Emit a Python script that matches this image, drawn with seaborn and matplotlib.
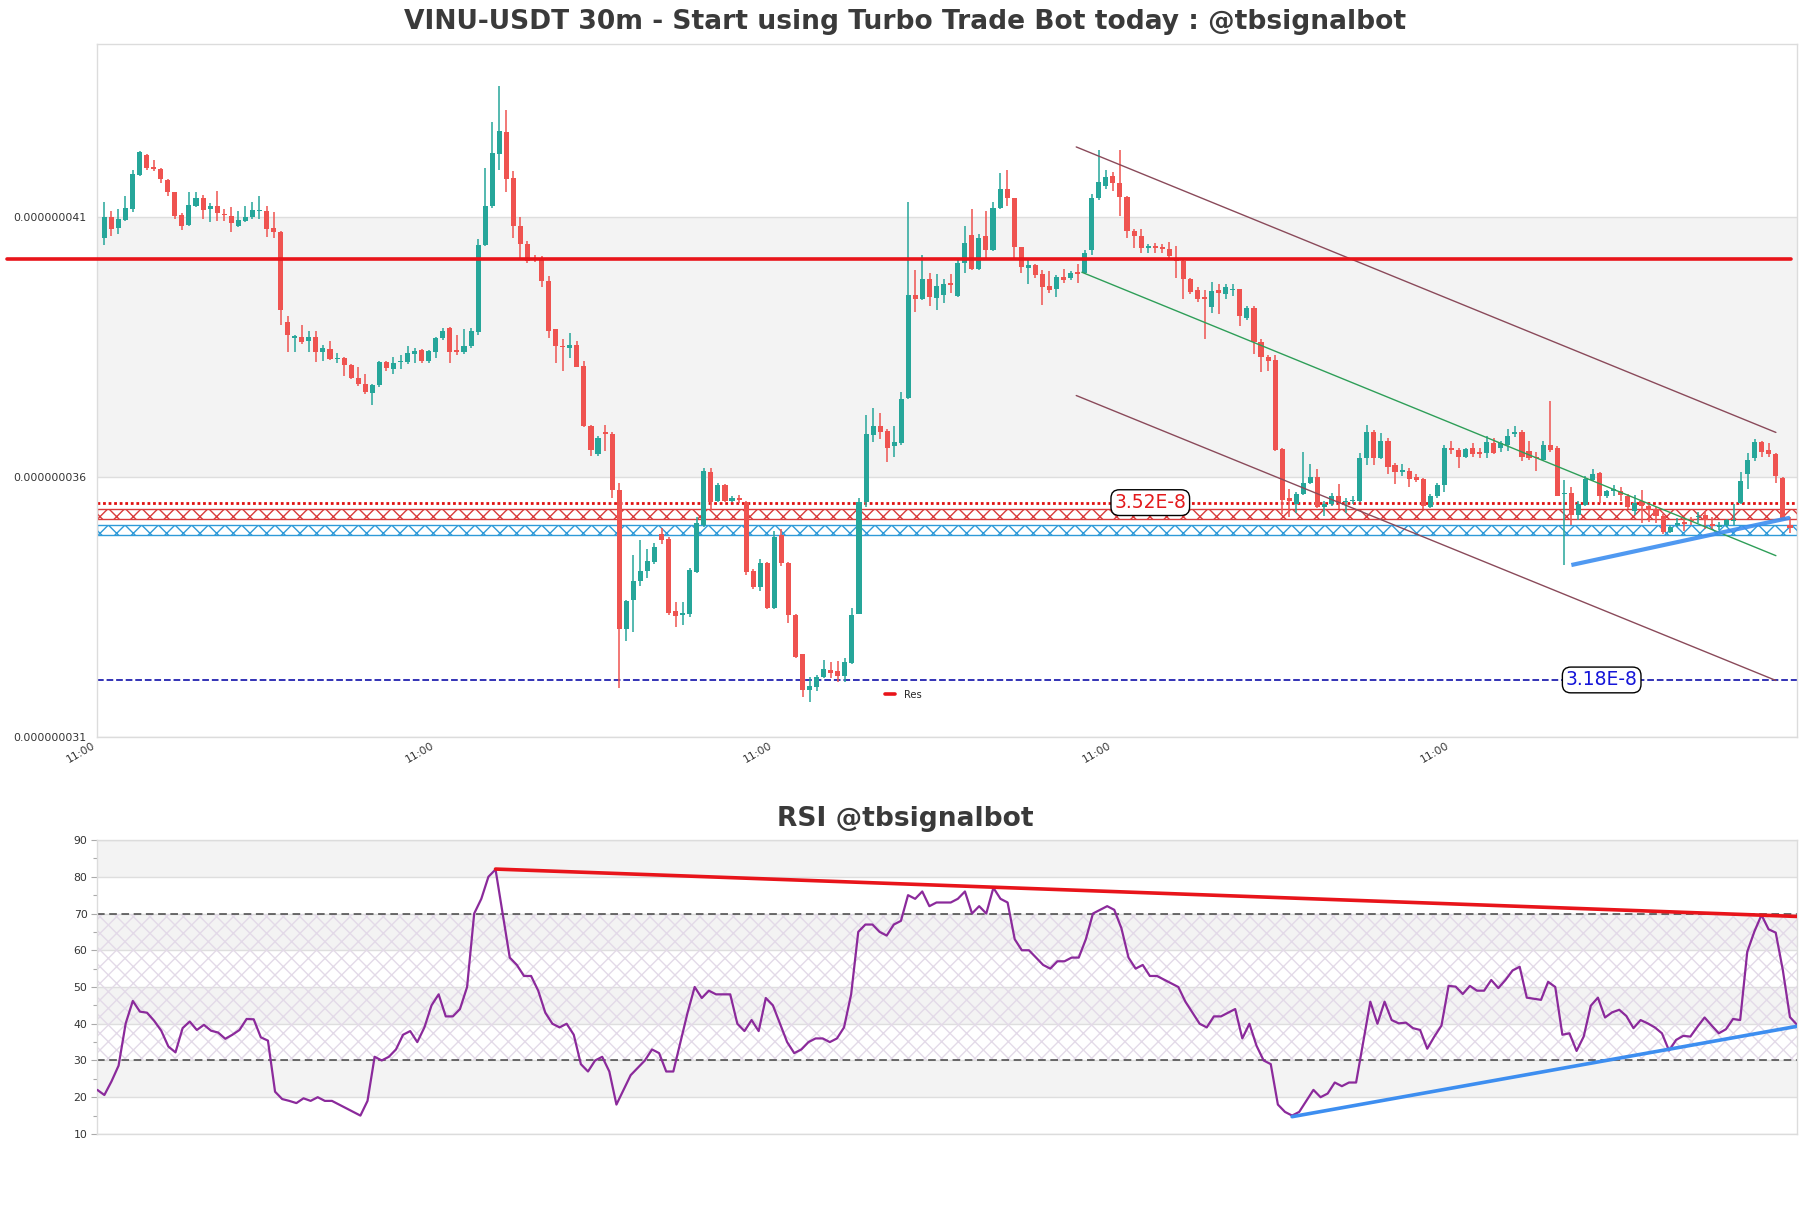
import numpy as np
import pandas as pd
import matplotlib
matplotlib.use("Agg")
import matplotlib.pyplot as plt
import seaborn as sns
from matplotlib.ticker import FixedLocator, FuncFormatter, MultipleLocator

# ---------------- data (prices in units of 1e-8 USDT) ----------------
SCALE = 1e-8

open_p = [
    4.059, 4.099, 4.078, 4.094, 4.114, 4.180, 4.219, 4.195, 4.192, 4.171,
    4.147, 4.103, 4.083, 4.121, 4.135, 4.114, 4.121, 4.105, 4.101, 4.081,
    4.092, 4.099, 4.110, 4.111, 4.079, 4.070, 3.898, 3.867, 3.869, 3.861,
    3.869, 3.840, 3.845, 3.826, 3.829, 3.815, 3.789, 3.779, 3.760, 3.776,
    3.820, 3.807, 3.820, 3.821, 3.835, 3.843, 3.822, 3.839, 3.866, 3.886,
    3.843, 3.839, 3.851, 3.878, 4.046, 4.121, 4.221, 4.262, 4.174, 4.082,
    4.047, 4.019, 4.017, 3.976, 3.883, 3.852, 3.848, 3.853, 3.813, 3.697,
    3.644, 3.686, 3.682, 3.575, 3.307, 3.362, 3.399, 3.418, 3.436, 3.489,
    3.481, 3.342, 3.333, 3.336, 3.416, 3.507, 3.609, 3.554, 3.584, 3.554,
    3.558, 3.551, 3.418, 3.387, 3.434, 3.347, 3.487, 3.434, 3.334, 3.258,
    3.189, 3.195, 3.215, 3.228, 3.226, 3.216, 3.242, 3.336, 3.551, 3.681,
    3.697, 3.687, 3.658, 3.664, 3.752, 3.950, 3.941, 3.980, 3.944, 3.950,
    3.972, 3.948, 4.010, 4.064, 3.999, 4.062, 4.035, 4.117, 4.154, 4.135,
    4.041, 4.002, 4.007, 3.990, 3.966, 3.960, 3.984, 3.982, 3.993, 3.992,
    4.035, 4.135, 4.158, 4.179, 4.164, 4.137, 4.072, 4.063, 4.039, 4.044,
    4.041, 4.038, 4.019, 4.015, 3.980, 3.958, 3.946, 3.927, 3.958, 3.952,
    3.958, 3.960, 3.905, 3.924, 3.858, 3.831, 3.825, 3.654, 3.558, 3.548,
    3.566, 3.587, 3.599, 3.542, 3.548, 3.562, 3.551, 3.553, 3.554, 3.635,
    3.685, 3.636, 3.668, 3.622, 3.609, 3.611, 3.599, 3.595, 3.542, 3.562,
    3.583, 3.656, 3.652, 3.638, 3.656, 3.648, 3.646, 3.664, 3.656, 3.661,
    3.682, 3.685, 3.650, 3.638, 3.632, 3.661, 3.656, 3.566, 3.568, 3.526,
    3.546, 3.593, 3.607, 3.562, 3.572, 3.573, 3.563, 3.534, 3.554, 3.544,
    3.538, 3.525, 3.493, 3.507, 3.512, 3.519, 3.522, 3.526, 3.509, 3.504,
    3.507, 3.514, 3.550, 3.605, 3.635, 3.666, 3.652, 3.643, 3.597, 3.507,
]

high_p = [
    4.129, 4.111, 4.115, 4.139, 4.190, 4.227, 4.221, 4.209, 4.194, 4.173,
    4.148, 4.107, 4.147, 4.147, 4.141, 4.127, 4.149, 4.115, 4.119, 4.111,
    4.121, 4.128, 4.140, 4.121, 4.109, 4.073, 3.909, 3.873, 3.891, 3.881,
    3.881, 3.854, 3.860, 3.838, 3.830, 3.817, 3.811, 3.797, 3.779, 3.822,
    3.822, 3.830, 3.834, 3.851, 3.848, 3.846, 3.844, 3.868, 3.886, 3.887,
    3.872, 3.884, 3.886, 4.056, 4.194, 4.282, 4.352, 4.305, 4.187, 4.099,
    4.054, 4.026, 4.025, 3.985, 3.884, 3.864, 3.877, 3.860, 3.822, 3.699,
    3.679, 3.699, 3.685, 3.587, 3.363, 3.449, 3.478, 3.460, 3.473, 3.501,
    3.483, 3.358, 3.358, 3.424, 3.522, 3.617, 3.617, 3.588, 3.585, 3.562,
    3.564, 3.554, 3.423, 3.442, 3.436, 3.495, 3.499, 3.436, 3.336, 3.259,
    3.215, 3.218, 3.248, 3.244, 3.246, 3.252, 3.347, 3.558, 3.719, 3.732,
    3.723, 3.691, 3.697, 3.763, 4.128, 3.997, 4.027, 3.991, 3.990, 3.980,
    3.990, 4.017, 4.082, 4.114, 4.066, 4.111, 4.128, 4.184, 4.190, 4.136,
    4.042, 4.017, 4.009, 3.997, 3.996, 3.988, 4.000, 3.996, 4.009, 4.035,
    4.143, 4.229, 4.190, 4.186, 4.229, 4.139, 4.076, 4.076, 4.048, 4.050,
    4.048, 4.051, 4.043, 4.019, 3.982, 3.964, 3.958, 3.974, 3.970, 3.970,
    3.970, 3.960, 3.929, 3.928, 3.864, 3.834, 3.834, 3.656, 3.577, 3.570,
    3.648, 3.625, 3.614, 3.554, 3.568, 3.585, 3.558, 3.562, 3.646, 3.699,
    3.690, 3.683, 3.674, 3.626, 3.625, 3.617, 3.605, 3.597, 3.566, 3.587,
    3.661, 3.669, 3.656, 3.656, 3.664, 3.656, 3.679, 3.675, 3.668, 3.691,
    3.697, 3.689, 3.669, 3.648, 3.668, 3.746, 3.658, 3.593, 3.580, 3.554,
    3.602, 3.614, 3.609, 3.575, 3.583, 3.580, 3.566, 3.564, 3.575, 3.548,
    3.542, 3.528, 3.507, 3.520, 3.519, 3.522, 3.532, 3.533, 3.522, 3.512,
    3.519, 3.548, 3.609, 3.646, 3.672, 3.668, 3.664, 3.646, 3.599, 3.522,
]

low_p = [
    4.046, 4.062, 4.066, 4.092, 4.109, 4.178, 4.189, 4.188, 4.164, 4.140,
    4.095, 4.074, 4.082, 4.118, 4.095, 4.089, 4.092, 4.092, 4.070, 4.080,
    4.090, 4.095, 4.095, 4.060, 4.059, 3.891, 3.839, 3.840, 3.856, 3.839,
    3.821, 3.823, 3.825, 3.818, 3.793, 3.788, 3.774, 3.758, 3.738, 3.773,
    3.803, 3.798, 3.807, 3.817, 3.818, 3.818, 3.818, 3.828, 3.862, 3.818,
    3.834, 3.836, 3.848, 3.873, 4.044, 4.117, 4.190, 4.148, 4.059, 4.017,
    4.011, 4.013, 3.964, 3.867, 3.818, 3.803, 3.828, 3.811, 3.695, 3.640,
    3.640, 3.650, 3.559, 3.193, 3.283, 3.301, 3.389, 3.405, 3.432, 3.471,
    3.334, 3.310, 3.314, 3.330, 3.415, 3.504, 3.536, 3.551, 3.551, 3.551,
    3.550, 3.411, 3.383, 3.381, 3.346, 3.346, 3.428, 3.318, 3.252, 3.177,
    3.167, 3.187, 3.212, 3.212, 3.205, 3.205, 3.240, 3.336, 3.542, 3.666,
    3.672, 3.628, 3.638, 3.661, 3.750, 3.917, 3.939, 3.928, 3.921, 3.933,
    3.953, 3.946, 3.991, 3.997, 3.997, 4.019, 4.033, 4.115, 4.121, 4.019,
    3.991, 3.970, 3.982, 3.931, 3.954, 3.946, 3.972, 3.979, 3.972, 3.990,
    4.027, 4.132, 4.154, 4.150, 4.101, 4.058, 4.039, 4.030, 4.030, 4.030,
    4.030, 4.021, 3.982, 3.942, 3.952, 3.935, 3.864, 3.915, 3.913, 3.941,
    3.948, 3.889, 3.902, 3.836, 3.801, 3.803, 3.650, 3.529, 3.522, 3.530,
    3.564, 3.585, 3.540, 3.525, 3.544, 3.538, 3.530, 3.548, 3.552, 3.622,
    3.622, 3.634, 3.606, 3.585, 3.601, 3.581, 3.589, 3.538, 3.540, 3.558,
    3.571, 3.643, 3.617, 3.635, 3.638, 3.635, 3.635, 3.643, 3.648, 3.650,
    3.677, 3.630, 3.632, 3.611, 3.630, 3.648, 3.562, 3.430, 3.507, 3.516,
    3.544, 3.591, 3.550, 3.558, 3.562, 3.554, 3.538, 3.526, 3.511, 3.512,
    3.511, 3.490, 3.491, 3.503, 3.495, 3.507, 3.511, 3.499, 3.499, 3.497,
    3.503, 3.507, 3.548, 3.577, 3.630, 3.638, 3.638, 3.588, 3.519, 3.491,
]

close_p = [
    4.099, 4.076, 4.095, 4.117, 4.182, 4.225, 4.194, 4.191, 4.172, 4.147,
    4.102, 4.082, 4.122, 4.135, 4.113, 4.121, 4.106, 4.103, 4.087, 4.094,
    4.099, 4.113, 4.113, 4.077, 4.070, 3.921, 3.873, 3.869, 3.858, 3.869,
    3.840, 3.848, 3.827, 3.829, 3.815, 3.789, 3.779, 3.762, 3.776, 3.821,
    3.809, 3.818, 3.823, 3.838, 3.842, 3.822, 3.842, 3.866, 3.880, 3.840,
    3.840, 3.852, 3.880, 4.046, 4.121, 4.223, 4.264, 4.172, 4.081, 4.048,
    4.015, 4.016, 3.976, 3.881, 3.851, 3.849, 3.854, 3.811, 3.697, 3.652,
    3.674, 3.682, 3.575, 3.307, 3.360, 3.399, 3.418, 3.438, 3.465, 3.479,
    3.338, 3.332, 3.338, 3.420, 3.511, 3.611, 3.551, 3.584, 3.554, 3.559,
    3.555, 3.416, 3.387, 3.434, 3.347, 3.483, 3.434, 3.334, 3.254, 3.189,
    3.197, 3.215, 3.230, 3.223, 3.216, 3.244, 3.334, 3.551, 3.682, 3.697,
    3.685, 3.656, 3.666, 3.750, 3.949, 3.941, 3.980, 3.946, 3.966, 3.970,
    3.969, 4.010, 4.049, 3.999, 4.059, 4.035, 4.117, 4.153, 4.135, 4.041,
    4.004, 4.007, 3.988, 3.964, 3.958, 3.983, 3.979, 3.992, 3.992, 4.030,
    4.135, 4.166, 4.176, 4.164, 4.137, 4.072, 4.062, 4.039, 4.044, 4.040,
    4.038, 4.024, 4.015, 3.980, 3.956, 3.942, 3.942, 3.957, 3.954, 3.964,
    3.960, 3.909, 3.924, 3.858, 3.830, 3.823, 3.652, 3.556, 3.554, 3.566,
    3.587, 3.599, 3.542, 3.548, 3.562, 3.550, 3.554, 3.555, 3.635, 3.685,
    3.636, 3.668, 3.619, 3.609, 3.613, 3.595, 3.593, 3.544, 3.562, 3.583,
    3.656, 3.652, 3.638, 3.654, 3.644, 3.644, 3.666, 3.646, 3.664, 3.679,
    3.685, 3.638, 3.636, 3.636, 3.661, 3.652, 3.563, 3.568, 3.526, 3.548,
    3.595, 3.606, 3.562, 3.572, 3.576, 3.564, 3.542, 3.550, 3.544, 3.536,
    3.525, 3.493, 3.504, 3.511, 3.508, 3.515, 3.525, 3.516, 3.506, 3.507,
    3.516, 3.516, 3.591, 3.632, 3.666, 3.648, 3.644, 3.601, 3.520, 3.501,
]

rsi_values = [
    22.0, 20.6, 24.3, 28.6, 40.1, 46.2, 43.3, 43.0, 40.8, 38.1,
    33.8, 32.2, 38.8, 40.6, 38.3, 39.7, 38.1, 37.6, 35.9, 37.0,
    38.3, 41.3, 41.2, 36.3, 35.4, 21.5, 19.5, 19.0, 18.4, 19.7,
    19, 20, 19, 19, 18, 17, 16, 15, 19, 31,
    30, 31, 33, 37, 38, 35, 39, 45, 48, 42,
    42, 44, 50, 70, 74, 80, 82, 70, 58, 56,
    53, 53, 49, 43, 40, 39, 40, 37, 29, 27,
    30, 31, 27, 18, 22, 26, 28, 30, 33, 32,
    27, 27, 35, 43, 50, 47, 49, 48, 48, 48,
    40, 38, 41, 38, 47, 45, 40, 35, 32, 33,
    35, 36, 36, 35, 36, 39, 48, 65, 67, 67,
    65, 64, 67, 68, 75, 74, 76, 72, 73, 73,
    73, 74, 76, 70, 72, 70, 77, 74, 73, 63,
    60, 60, 58, 56, 55, 57, 57, 58, 58, 63,
    70, 71, 72, 71, 66, 58, 55, 56, 53, 53,
    52, 51, 50, 46, 43, 40, 39, 42, 42, 43,
    44, 36, 40, 34, 30, 29, 18, 16, 15, 16,
    19, 22, 20, 21, 24, 23, 24, 24, 35, 46,
    40, 46, 41, 40.1, 40.3, 38.8, 38.3, 33.2, 36.5, 39.5,
    50.3, 50.1, 48.1, 50.3, 49.0, 49.0, 51.9, 49.7, 51.9, 54.5,
    55.5, 47.1, 46.8, 46.5, 51.4, 50.0, 37.0, 37.4, 32.6, 36.5,
    44.9, 47.1, 41.7, 43.1, 43.8, 42.1, 38.8, 41.0, 40.1, 39.0,
    37.4, 32.7, 35.6, 36.7, 36.5, 39.2, 41.7, 39.5, 37.4, 38.5,
    41.3, 41.0, 59.6, 65.1, 69.6, 65.7, 64.8, 54.6, 41.8, 39.7,
]

x_tick_positions = [-1, 47, 95, 143, 191]
x_tick_labels = ["11:00", "11:00", "11:00", "11:00", "11:00"]
price_ticks = [3.1, 3.6, 4.1]
rsi_ticks = [10, 20, 30, 40, 50, 60, 70, 80, 90]

res_level = 4.018
res_x = [-13.85, 239.1]
dotted_level = 3.550
red_zone = [3.519, 3.537]
blue_zone = [3.487, 3.507]
support_level = 3.209
res_label = "3.52E-8"
res_label_x = 148.3
sup_label = "3.18E-8"
sup_label_x = 212.3

chan_upper_x, chan_upper_y = [137.8, 237.0], [4.234, 3.685]
chan_lower_x, chan_lower_y = [137.8, 237.0], [3.756, 3.208]
chan_mid_x, chan_mid_y = [138.6, 237.0], [3.993, 3.448]
sup_trend_x, sup_trend_y = [208.0, 239.0], [3.430, 3.521]
rsi_res_x, rsi_res_y = [56, 239], [82.1, 69.2]
rsi_sup_x, rsi_sup_y = [168, 239], [14.7, 39.3]

main_title = "VINU-USDT 30m - Start using Turbo Trade Bot today : @tbsignalbot"
rsi_title = "RSI @tbsignalbot"

# ---------------- style ----------------
sns.set_theme(style="white")
plt.rcParams["font.family"] = ["DejaVu Sans"]
plt.rcParams["hatch.linewidth"] = 1.0

GREEN = "#26a69a"
RED = "#ef5350"
TXT = "#3a3a3a"
SPINE = "#dcdcdc"
BAND = "#f3f3f3"

fig = plt.figure(figsize=(18.11, 12.08), dpi=100)
ax = fig.add_axes([0.0537, 0.3902, 0.9386, 0.5734])
ax2 = fig.add_axes([0.0537, 0.0613, 0.9386, 0.2433])

# ---------------- main candlestick panel ----------------
df = pd.DataFrame({
    "x": np.arange(len(close_p)),
    "open": np.array(open_p) * SCALE,
    "high": np.array(high_p) * SCALE,
    "low": np.array(low_p) * SCALE,
    "close": np.array(close_p) * SCALE,
})
up = df["close"] >= df["open"]
colors = np.where(up, GREEN, RED)

ax.axhspan(3.6 * SCALE, 4.1 * SCALE, color=BAND, zorder=0, lw=0)
for t in price_ticks:
    ax.axhline(t * SCALE, color="#dedede", lw=1.0, zorder=0.5)

# zones
ax.fill_between([-1, 240], red_zone[0] * SCALE, red_zone[1] * SCALE,
                facecolor="none", edgecolor="#d93a3a", hatch="xx", lw=1.0, zorder=2)
ax.fill_between([-1, 240], blue_zone[0] * SCALE, blue_zone[1] * SCALE,
                facecolor="none", edgecolor="#2f9ad8", hatch="xx", lw=1.0, zorder=2)
ax.axhline(dotted_level * SCALE, color="#e01010", ls=(0, (1, 1)), lw=2.0, zorder=2.5)
ax.axhline(support_level * SCALE, color="#2222b0", ls="--", lw=1.3, zorder=2.5)

# candles
ax.vlines(df["x"], df["low"], df["high"], colors=colors, lw=1.1, zorder=3)
body = (df["close"] - df["open"]).to_numpy()
min_h = 0.0025 * SCALE
body = np.where(np.abs(body) < min_h, np.where(up, min_h, -min_h), body)
ax.bar(df["x"], body, bottom=df["open"], width=0.72, color=colors, lw=0, zorder=4)

# trend lines
ax.plot(chan_upper_x, np.array(chan_upper_y) * SCALE, color="#8a4a5a", lw=1.0, zorder=5)
ax.plot(chan_lower_x, np.array(chan_lower_y) * SCALE, color="#8a4a5a", lw=1.0, zorder=5)
ax.plot(chan_mid_x, np.array(chan_mid_y) * SCALE, color="#2e9e58", lw=1.0, zorder=5)
ax.plot(sup_trend_x, np.array(sup_trend_y) * SCALE, color="#3d8ef0", lw=3.0, alpha=0.9,
        zorder=6, solid_capstyle="butt")

# resistance line (extends outside the axes on the left)
ax.plot(res_x, [res_level * SCALE] * 2, color="#e8141a", lw=2.6, clip_on=False,
        zorder=6, label="Res")

box = dict(boxstyle="round,pad=0.18,rounding_size=0.45", fc="white", ec="black", lw=1.0)
ax.text(res_label_x, dotted_level * SCALE, res_label, color="#e31a1c", fontsize=13.5,
        ha="center", va="center", zorder=7, bbox=box)
ax.text(sup_label_x, support_level * SCALE, sup_label, color="#1515d8", fontsize=13.5,
        ha="center", va="center", zorder=7, bbox=box)

ax.set_xlim(-1, 240)
ax.set_ylim(3.1 * SCALE, 4.432 * SCALE)
ax.yaxis.set_major_locator(FixedLocator([t * SCALE for t in price_ticks]))
ax.yaxis.set_major_formatter(FuncFormatter(lambda v, p: f"{v:.9f}"))
ax.set_xticks(x_tick_positions)
ax.set_xticklabels(x_tick_labels, rotation=30, ha="right")
ax.tick_params(axis="both", length=0, labelsize=7.8, colors="#333333", pad=8)
ax.tick_params(axis="x", pad=3)
for s in ax.spines.values():
    s.set_color(SPINE)
    s.set_linewidth(1.0)
ax.set_xlabel("")
ax.set_ylabel("")

leg = ax.legend(loc="center left", bbox_to_anchor=(0.4634, 0.0602), frameon=False,
                fontsize=7.2, handlelength=1.0, borderpad=0, borderaxespad=0,
                handletextpad=0.9)

# ---------------- RSI panel ----------------
for lo in [80, 60, 40, 20]:
    ax2.axhspan(lo, lo + 10, color=BAND, zorder=0, lw=0)
for t in rsi_ticks:
    ax2.axhline(t, color="#dedede", lw=1.0, zorder=0.5)
ax2.fill_between([0, 239], 30, 70, facecolor="none", edgecolor="#e3dae8",
                 hatch="xx", lw=0, zorder=1)
ax2.axhline(30, color="#444444", ls=(0, (5, 3)), lw=1.1, zorder=2)
ax2.axhline(70, color="#444444", ls=(0, (5, 3)), lw=1.1, zorder=2)

rsi_df = pd.DataFrame({"x": np.arange(len(rsi_values)), "rsi": rsi_values})
sns.lineplot(data=rsi_df, x="x", y="rsi", ax=ax2, color="#8b2a9b", lw=1.6, zorder=4)
ax2.plot(rsi_res_x, rsi_res_y, color="#e8141a", lw=2.6, zorder=5)
ax2.plot(rsi_sup_x, rsi_sup_y, color="#3d8ef0", lw=2.6, zorder=5)

ax2.set_xlim(0, 239)
ax2.set_ylim(10, 90)
ax2.set_xticks([])
ax2.yaxis.set_major_locator(FixedLocator(rsi_ticks))
ax2.yaxis.set_minor_locator(MultipleLocator(5))
ax2.tick_params(axis="y", which="major", length=4, width=0.8, color="#aaaaaa",
                labelsize=7.8, labelcolor="#333333", pad=3, left=True)
ax2.tick_params(axis="y", which="minor", length=3, width=0.8, color="#aaaaaa", left=True)
for s in ax2.spines.values():
    s.set_color(SPINE)
    s.set_linewidth(1.0)
ax2.set_xlabel("")
ax2.set_ylabel("")

# titles centred on the figure
fig.text(0.5, 0.9818, main_title, fontsize=19.1, fontweight="bold", color=TXT,
         ha="center", va="center")
fig.text(0.5, 0.3224, rsi_title, fontsize=19.1, fontweight="bold", color=TXT,
         ha="center", va="center")

fig.savefig("out.png", dpi=100)
